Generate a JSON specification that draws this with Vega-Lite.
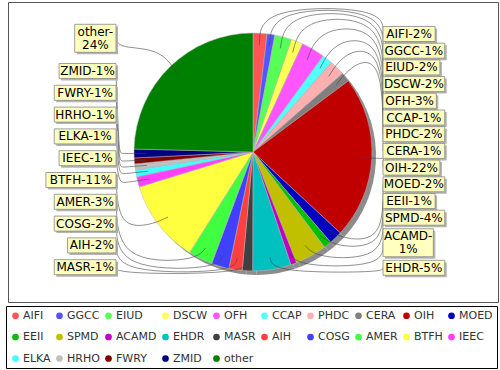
{
  "$schema": "https://vega.github.io/schema/vega-lite/v6.json",
  "width": 490,
  "height": 300,
  "padding": {"left": 5, "top": 2, "right": 5, "bottom": 0},
  "autosize": {"type": "pad"},
  "background": "white",
  "config": {
    "view": {"stroke": "#555555", "strokeWidth": 1},
    "font": "DejaVu Sans"
  },
  "data": {
    "values": [
      {"name": "AIFI", "value": 1.9, "label": "AIFI-2%"},
      {"name": "GGCC", "value": 1.05, "label": "GGCC-1%"},
      {"name": "EIUD", "value": 2.3, "label": "EIUD-2%"},
      {"name": "DSCW", "value": 1.6, "label": "DSCW-2%"},
      {"name": "OFH", "value": 3.2, "label": "OFH-3%"},
      {"name": "CCAP", "value": 1.4, "label": "CCAP-1%"},
      {"name": "PHDC", "value": 2.1, "label": "PHDC-2%"},
      {"name": "CERA", "value": 1.25, "label": "CERA-1%"},
      {"name": "OIH", "value": 22.1, "label": "OIH-22%"},
      {"name": "MOED", "value": 1.8, "label": "MOED-2%"},
      {"name": "EEII", "value": 1.05, "label": "EEII-1%"},
      {"name": "SPMD", "value": 4.3, "label": "SPMD-4%"},
      {"name": "ACAMD", "value": 0.8, "label": "ACAMD-\n1%"},
      {"name": "EHDR", "value": 5.2, "label": "EHDR-5%"},
      {"name": "MASR", "value": 1.4, "label": "MASR-1%"},
      {"name": "AIH", "value": 1.8, "label": "AIH-2%"},
      {"name": "COSG", "value": 2.4, "label": "COSG-2%"},
      {"name": "AMER", "value": 3.3, "label": "AMER-3%"},
      {"name": "BTFH", "value": 11.3, "label": "BTFH-11%"},
      {"name": "IEEC", "value": 1.4, "label": "IEEC-1%"},
      {"name": "ELKA", "value": 0.95, "label": "ELKA-1%"},
      {"name": "HRHO", "value": 0.8, "label": "HRHO-1%"},
      {"name": "FWRY", "value": 0.8, "label": "FWRY-1%"},
      {"name": "ZMID", "value": 1.2, "label": "ZMID-1%"},
      {"name": "other", "value": 24.6, "label": "other-\n24%"}
    ]
  },
  "transform": [
    {"window": [{"op": "row_number", "as": "idx"}]},
    {"window": [{"op": "sum", "field": "value", "as": "cum"}], "sort": [{"field": "idx", "order": "ascending"}], "frame": [null, 0]},
    {"joinaggregate": [{"op": "sum", "field": "value", "as": "total"}]},
    {"calculate": "2*PI*(datum.cum - datum.value/2)/datum.total", "as": "mid"},
    {"calculate": "datum.mid < PI ? 'R' : 'L'", "as": "side"},
    {"calculate": "indexof(datum.label, '\\n') >= 0 ? 2 : 1", "as": "lines"},
    {"calculate": "datum.side == 'R' ? datum.idx : -datum.idx", "as": "sk"},
    {"window": [{"op": "sum", "field": "lines", "as": "cl"}], "groupby": ["side"], "sort": [{"field": "sk", "order": "ascending"}], "frame": [null, 0]},
    {"calculate": "datum.cl - datum.lines/2", "as": "pos"},
    {"calculate": "datum.side == 'R' ? -118 + (datum.pos - 0.5)*16.7 : -81 + (datum.pos - 2.5)*21.8", "as": "ly"},
    {"calculate": "datum.ly - (datum.lines - 1)*6.5", "as": "ty"},
    {"calculate": "indexof(datum.label, '\\n') >= 0 ? substring(datum.label, 0, indexof(datum.label, '\\n')) : datum.label", "as": "fl"},
    {"calculate": "length(datum.fl) - length(replace(datum.fl, regexp('I', 'g'), ''))", "as": "nI"},
    {"calculate": "length(datum.fl) - length(replace(datum.fl, regexp('-', 'g'), ''))", "as": "nD"},
    {"calculate": "length(datum.fl) - length(replace(datum.fl, regexp('%', 'g'), ''))", "as": "nP"},
    {"calculate": "length(datum.fl) - length(replace(datum.fl, regexp('[a-z]', 'g'), ''))", "as": "nL"},
    {"calculate": "12*(0.7*length(datum.fl) - 0.4*datum.nI - 0.34*datum.nD + 0.25*datum.nP - 0.15*datum.nL)", "as": "tw"},
    {"calculate": "datum.lines*13 + 2", "as": "bh"},
    {"calculate": "datum.side == 'R' ? 130 : -137 - datum.tw - 4", "as": "bx1"},
    {"calculate": "datum.side == 'R' ? 130 + datum.tw + 4 : -137", "as": "bx2"},
    {"calculate": "datum.ly - datum.bh/2", "as": "by1"},
    {"calculate": "datum.ly + datum.bh/2", "as": "by2"},
    {"calculate": "(datum.bx1 + datum.bx2)/2", "as": "tx"}
  ],
  "layer": [
    {
      "mark": {"type": "arc", "outerRadius": 119, "xOffset": 4, "yOffset": 4, "color": "#8c8c8c"},
      "encoding": {
        "theta": {"field": "value", "type": "quantitative", "stack": true},
        "order": {"field": "idx", "type": "quantitative"}
      }
    },
    {
      "mark": {"type": "arc", "outerRadius": 119, "stroke": "#b8b8b8", "strokeWidth": 0.5},
      "encoding": {
        "theta": {"field": "value", "type": "quantitative", "stack": true},
        "order": {"field": "idx", "type": "quantitative"},
        "color": {
          "field": "name",
          "type": "nominal",
          "scale": {
            "domain": ["AIFI", "GGCC", "EIUD", "DSCW", "OFH", "CCAP", "PHDC", "CERA", "OIH", "MOED", "EEII", "SPMD", "ACAMD", "EHDR", "MASR", "AIH", "COSG", "AMER", "BTFH", "IEEC", "ELKA", "HRHO", "FWRY", "ZMID", "other"],
            "range": ["#ff5555", "#5555ff", "#55ff55", "#ffff55", "#ff55ff", "#55ffff", "#ffafaf", "#808080", "#c00000", "#0000c0", "#00c000", "#c0c000", "#c000c0", "#00c0c0", "#404040", "#ff4040", "#4040ff", "#40ff40", "#ffff40", "#ff40ff", "#40ffff", "#c0c0c0", "#800000", "#000080", "#008000"]
          },
          "legend": {
            "title": null,
            "orient": "none",
            "legendX": -2,
            "legendY": 304,
            "direction": "horizontal",
            "columns": 10,
            "symbolType": "circle",
            "symbolSize": 45,
            "symbolStrokeWidth": 0,
            "symbolOpacity": 1,
            "labelFont": "DejaVu Sans",
            "labelFontSize": 11,
            "labelColor": "#333333",
            "labelOffset": 2,
            "columnPadding": 3,
            "rowPadding": 9.5,
            "padding": 4,
            "strokeColor": "#000000",
            "fillColor": "white"
          }
        }
      }
    },
    {
      "transform": [
        {"calculate": "[0, 1, 2, 3]", "as": "kk"},
        {"flatten": ["kk"]},
        {"calculate": "-cos(datum.mid) * (cos(datum.mid) > 0 ? 145 : 122)", "as": "ey"},
        {"calculate": "datum.kk == 0 ? (datum.side == 'R' ? 130 : -137) : datum.kk == 1 ? (datum.side == 'R' ? 130 : -134) : datum.kk == 2 ? 132*sin(datum.mid) : 107*sin(datum.mid)", "as": "lx"},
        {"calculate": "datum.kk == 0 ? datum.ly : datum.kk == 3 ? -107*cos(datum.mid) : datum.ey", "as": "lyy"}
      ],
      "mark": {"type": "line", "interpolate": "basis", "color": "#444444", "strokeWidth": 0.6},
      "encoding": {
        "x": {"field": "lx", "type": "quantitative", "scale": {"domain": [-245, 245], "nice": false, "zero": false}, "axis": null},
        "y": {"field": "lyy", "type": "quantitative", "scale": {"domain": [-150, 150], "nice": false, "zero": false, "reverse": true}, "axis": null},
        "detail": {"field": "name", "type": "nominal"},
        "order": {"field": "kk", "type": "quantitative"}
      }
    },
    {
      "mark": {"type": "rect", "color": "#b4b4b4", "xOffset": 2, "x2Offset": 2, "yOffset": 2, "y2Offset": 2},
      "encoding": {
        "x": {"field": "bx1", "type": "quantitative", "scale": {"domain": [-245, 245], "nice": false, "zero": false}, "axis": null},
        "x2": {"field": "bx2"},
        "y": {"field": "by1", "type": "quantitative", "scale": {"domain": [-150, 150], "nice": false, "zero": false, "reverse": true}, "axis": null},
        "y2": {"field": "by2"}
      }
    },
    {
      "mark": {"type": "rect", "fill": "#ffffc0", "stroke": "#888888", "strokeWidth": 0.8},
      "encoding": {
        "x": {"field": "bx1", "type": "quantitative", "scale": {"domain": [-245, 245], "nice": false, "zero": false}, "axis": null},
        "x2": {"field": "bx2"},
        "y": {"field": "by1", "type": "quantitative", "scale": {"domain": [-150, 150], "nice": false, "zero": false, "reverse": true}, "axis": null},
        "y2": {"field": "by2"}
      }
    },
    {
      "mark": {"type": "text", "align": "center", "baseline": "middle", "font": "DejaVu Sans", "fontSize": 12, "lineHeight": 13, "lineBreak": "\n", "color": "#000000"},
      "encoding": {
        "x": {"field": "tx", "type": "quantitative", "scale": {"domain": [-245, 245], "nice": false, "zero": false}, "axis": null},
        "y": {"field": "ty", "type": "quantitative", "scale": {"domain": [-150, 150], "nice": false, "zero": false, "reverse": true}, "axis": null},
        "text": {"field": "label", "type": "nominal"}
      }
    }
  ]
}
